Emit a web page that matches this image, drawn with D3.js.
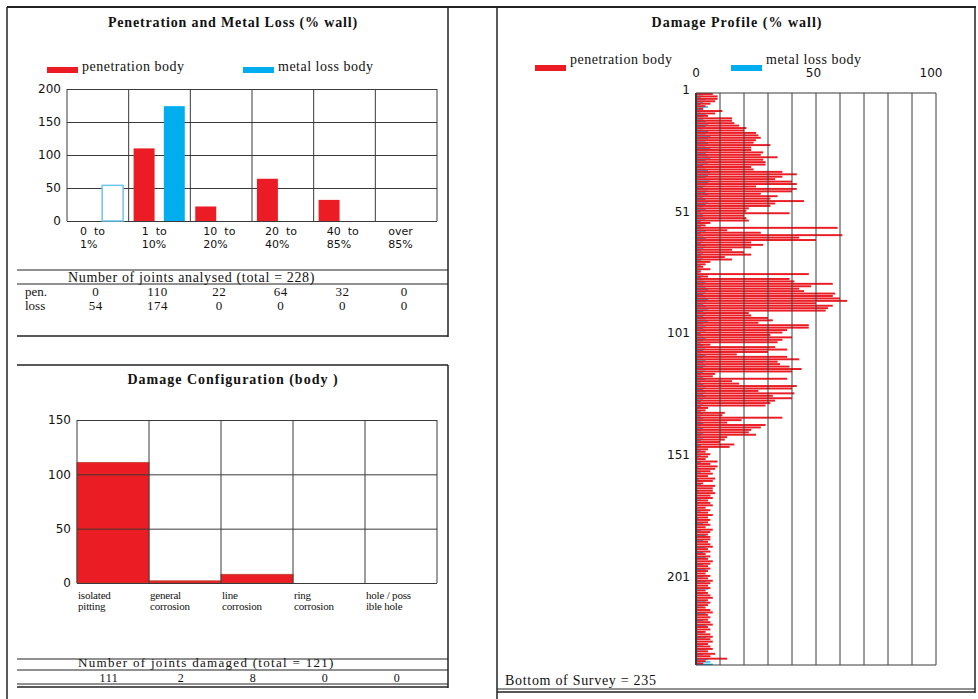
<!DOCTYPE html>
<html>
<head>
<meta charset="utf-8">
<script src="https://cdn.jsdelivr.net/npm/d3@7"></script>
<style>
body { margin: 0; background: #fff; }
svg { display: block; }
text { fill: #111; }
.serif { font-family: "Liberation Serif", "Times New Roman", serif; }
.sans { font-family: "DejaVu Sans", Verdana, sans-serif; }
</style>
</head>
<body>
<svg id="page" width="978" height="699"></svg>
<script>
// penetration / metal loss histogram
var rangeTop = ["0  to", "1  to", "10  to", "20  to", "40  to", "over"];
var rangeBottom = ["1%", "10%", "20%", "40%", "85%", "85%"];
var penCount = [0, 110, 22, 64, 32, 0];
var lossCount = [54, 174, 0, 0, 0, 0];
var histTicks = [0, 50, 100, 150, 200];

// damage configuration
var configTop = ["isolated", "general", "line", "ring", "hole / poss"];
var configBottom = ["pitting", "corrosion", "corrosion", "corrosion", "ible hole"];
var configCount = [111, 2, 8, 0, 0];
var configTicks = [0, 50, 100, 150];

// damage profile, one value per joint (% wall)
var profileTicks = [1, 51, 101, 151, 201];
var profileAxis = [0, 50, 100];
var penProfile = [
    7, 9, 9, 8, 6, 4, 3, 11, 8, 5,
    15, 15, 16, 18, 21, 20, 25, 26, 27, 25,
    24, 31, 23, 23, 28, 27, 34, 28, 29, 29,
    23, 24, 36, 42, 36, 33, 40, 42, 25, 42,
    40, 27, 34, 31, 45, 33, 31, 22, 21, 39,
    20, 21, 22, 6, 4, 59, 13, 27, 61, 43,
    50, 23, 28, 23, 15, 20, 23, 12, 15, 6,
    4, 3, 6, 2, 47, 5, 39, 41, 57, 48,
    43, 45, 58, 57, 60, 63, 50, 57, 55, 54,
    22, 23, 30, 32, 26, 47, 47, 38, 36, 31,
    40, 36, 34, 6, 33, 38, 30, 17, 38, 43,
    34, 35, 39, 44, 40, 8, 7, 38, 15, 18,
    42, 40, 26, 41, 32, 40, 33, 31, 29, 5,
    4, 12, 11, 36, 19, 13, 29, 27, 23, 22,
    25, 13, 12, 10, 16, 14, 5, 4, 6, 5,
    4, 9, 6, 9, 8, 6, 7, 5, 8, 7,
    3, 8, 7, 7, 8, 6, 7, 5, 6, 7,
    4, 6, 5, 7, 5, 6, 5, 6, 4, 7,
    6, 5, 6, 6, 5, 6, 7, 5, 6, 4,
    6, 5, 7, 6, 5, 6, 5, 4, 6, 5,
    7, 6, 5, 6, 4, 5, 6, 7, 5, 6,
    5, 4, 6, 7, 5, 6, 5, 6, 7, 5,
    6, 4, 6, 7, 6, 7, 5, 6, 7, 5,
    8, 6, 13, 4, 3
];
var lossProfile = [
    3, 2, 4, 3, 2, 5, 3, 2, 4, 3,
    3, 4, 5, 4, 3, 5, 4, 6, 5, 4,
    5, 4, 6, 5, 4, 5, 6, 4, 5, 3,
    4, 5, 6, 5, 4, 6, 5, 4, 3, 5,
    4, 5, 3, 4, 5, 4, 3, 4, 2, 3,
    3, 4, 2, 3, 2, 3, 4, 2, 3, 4,
    3, 2, 4, 3, 2, 3, 2, 3, 2, 1,
    2, 1, 2, 1, 3, 2, 3, 4, 3, 4,
    5, 4, 3, 4, 5, 4, 3, 4, 5, 3,
    4, 3, 4, 5, 3, 4, 3, 4, 2, 3,
    4, 3, 2, 3, 4, 3, 2, 4, 3, 4,
    3, 4, 3, 4, 3, 2, 3, 4, 2, 3,
    4, 3, 4, 3, 4, 3, 2, 3, 2, 1,
    2, 3, 2, 3, 2, 3, 2, 3, 2, 3,
    2, 3, 2, 1, 2, 1, 2, 1, 2, 1,
    0.5, 2, 0.5, 1, 0.5, 2, 0.5, 0.5, 1, 0.5,
    2, 0.5, 0.5, 1, 0.5, 0.5, 2, 0.5, 1, 0.5,
    0.5, 2, 0.5, 0.5, 1, 0.5, 3, 0.5, 0.5, 2,
    0.5, 4, 0.5, 3, 0.5, 0.5, 4, 0.5, 3, 0.5,
    4, 0.5, 0.5, 3, 0.5, 4, 0.5, 0.5, 3, 0.5,
    4, 0.5, 0.5, 5, 0.5, 3, 0.5, 0.5, 4, 0.5,
    3, 0.5, 0.5, 4, 0.5, 0.5, 3, 0.5, 4, 0.5,
    0.5, 3, 0.5, 4, 0.5, 0.5, 3, 0.5, 4, 0.5,
    3, 0.5, 5, 6, 7
];

var red = "#ec1c24", blue = "#00aeef", grid = "#3a3a3a";
var svg = d3.select("#page");

function line(x1, y1, x2, y2, w) {
    svg.append("line").attr("x1", x1).attr("y1", y1).attr("x2", x2).attr("y2", y2)
        .attr("stroke", "#222").attr("stroke-width", w || 1);
}

function label(x, y, txt, cls, size, anchor, spacing) {
    return svg.append("text").attr("class", cls).attr("x", x).attr("y", y)
        .attr("font-size", size).attr("text-anchor", anchor || "start")
        .attr("letter-spacing", spacing || 0)
        .style("white-space", "pre").text(txt);
}

function title(x, y, txt, spacing) {
    label(x, y, txt, "serif", 14, "middle", spacing).attr("font-weight", "bold");
}

function legend(x, ySwatch, yText, color, txt) {
    svg.append("rect").attr("x", x).attr("y", ySwatch).attr("width", 31).attr("height", 6).attr("fill", color);
    label(x + 35, yText, txt, "serif", 14, "start", 0.5);
}

function styleAxis(a) {
    a.select(".domain").remove();
    a.selectAll("line").attr("stroke", grid);
    a.selectAll("text").attr("font-family", "DejaVu Sans").attr("font-size", 12).attr("fill", "#222");
}

// frame
line(7, 7, 976, 7, 2);
line(7, 7, 7, 699, 1.5);
line(448, 7, 448, 337, 1.5);
line(17, 336, 448, 336, 1.5);
line(17, 365, 448, 365, 1.5);
line(448, 365, 448, 688, 1.5);
line(17, 684, 448, 684, 1);
line(17, 687, 448, 687, 1.5);
line(497, 7, 497, 699, 1.5);
line(975, 7, 975, 693, 1.5);
line(497, 689, 975, 689, 1);
line(497, 692, 975, 692, 1.5);

function histChart() {
    title(233, 27, "Penetration and Metal Loss (% wall)", 0.85);
    legend(47, 67, 71, red, "penetration body");
    legend(243, 67, 71, blue, "metal loss body");

    var x = d3.scaleBand().domain(d3.range(penCount.length)).range([67, 437]);
    var y = d3.scaleLinear().domain([0, 200]).range([221, 89]);
    var g = svg.append("g");
    var bw = x.bandwidth();

    g.append("g").attr("transform", "translate(67,0)")
        .call(d3.axisLeft(y).tickValues(histTicks).tickSize(-(437 - 67)).tickPadding(6))
        .call(styleAxis);
    g.selectAll(".vg").data(x.domain().concat([x.domain().length]))
        .enter().append("line")
        .attr("x1", function(d) { return d < penCount.length ? x(d) : 437; })
        .attr("x2", function(d) { return d < penCount.length ? x(d) : 437; })
        .attr("y1", y(0)).attr("y2", y(200)).attr("stroke", grid);

    g.selectAll(".pen").data(penCount)
        .enter().append("rect")
        .attr("x", function(d, i) { return x(i) + bw * 0.08; })
        .attr("width", bw * 0.34)
        .attr("y", function(d) { return y(d); })
        .attr("height", function(d) { return y(0) - y(d); })
        .attr("fill", red);

    g.selectAll(".loss").data(lossCount)
        .enter().append("rect")
        .attr("x", function(d, i) { return x(i) + bw * 0.57; })
        .attr("width", bw * 0.34)
        .attr("y", function(d) { return y(d); })
        .attr("height", function(d) { return y(0) - y(d); })
        .attr("fill", function(d, i) { return i === 0 ? "#fff" : blue; })
        .attr("stroke", function(d, i) { return i === 0 ? "#6cc6ee" : "none"; })
        .attr("stroke-width", 1.5);

    x.domain().forEach(function(i) {
        label(x(i) + 13, 235, rangeTop[i], "sans", 11);
        label(x(i) + 13, 248, rangeBottom[i], "sans", 11);
    });

    // table
    line(17, 270, 448, 270);
    line(17, 284, 448, 284);
    label(68, 282, "Number of joints analysed (total = 228)", "serif", 14, "start", 0.65);
    label(25, 296, "pen.", "serif", 13);
    label(25, 310, "loss", "serif", 13);
    x.domain().forEach(function(i) {
        label(x(i) + bw / 2 - 2, 296, penCount[i], "serif", 13, "middle", 0.5);
        label(x(i) + bw / 2 - 2, 310, lossCount[i], "serif", 13, "middle", 0.5);
    });
}

function configChart() {
    title(233, 384, "Damage Configuration (body )", 1);

    var x = d3.scaleBand().domain(d3.range(configCount.length)).range([77, 437]);
    var y = d3.scaleLinear().domain([0, 150]).range([583, 420]);
    var g = svg.append("g");
    var bw = x.bandwidth();

    g.selectAll(".bar").data(configCount)
        .enter().append("rect")
        .attr("x", function(d, i) { return x(i); })
        .attr("width", bw)
        .attr("y", function(d) { return y(d); })
        .attr("height", function(d) { return y(0) - y(d); })
        .attr("fill", red)
        .attr("stroke", "#b9472f").attr("stroke-width", 0.8);

    g.append("g").attr("transform", "translate(77,0)")
        .call(d3.axisLeft(y).tickValues(configTicks).tickSize(-(437 - 77)).tickPadding(6))
        .call(styleAxis);
    g.selectAll(".vg").data(x.domain().concat([x.domain().length]))
        .enter().append("line")
        .attr("x1", function(d) { return d < configCount.length ? x(d) : 437; })
        .attr("x2", function(d) { return d < configCount.length ? x(d) : 437; })
        .attr("y1", y(0)).attr("y2", y(150)).attr("stroke", grid);

    x.domain().forEach(function(i) {
        label(x(i) + 1, 599, configTop[i], "serif", 11, "start", -0.2);
        label(x(i) + 1, 610, configBottom[i], "serif", 11, "start", -0.2);
    });

    line(17, 659, 448, 659);
    line(17, 670, 448, 670);
    label(78, 667, "Number of joints damaged (total = 121)", "serif", 13, "start", 1.3);
    x.domain().forEach(function(i) {
        label(x(i) + bw / 2 - 4, 682, configCount[i], "serif", 12, "middle", 0.6);
    });
}

function profileChart() {
    title(737, 27, "Damage Profile (% wall)", 1);
    legend(535, 65, 64, red, "penetration body");
    legend(731, 65, 64, blue, "metal loss body");

    var joints = d3.range(1, penProfile.length + 1);
    var x = d3.scaleLinear().domain([0, 100]).range([696, 936]);
    var y = d3.scaleBand().domain(joints).range([93, 665]);
    var g = svg.append("g");
    var bh = y.bandwidth();

    // metal loss sits under the penetration bar and shows in the gap below it
    g.selectAll(".loss").data(lossProfile)
        .enter().append("rect")
        .attr("x", x(0))
        .attr("y", function(d, i) { return y(joints[i]) + bh * 0.45; })
        .attr("width", function(d) { return x(d) - x(0); })
        .attr("height", bh * 0.55)
        .attr("fill", blue);

    g.selectAll(".pen").data(penProfile)
        .enter().append("rect")
        .attr("x", x(0))
        .attr("y", function(d, i) { return y(joints[i]); })
        .attr("width", function(d) { return x(d) - x(0); })
        .attr("height", bh * 0.8)
        .attr("fill", red);

    g.selectAll(".vg").data(x.ticks(10))
        .enter().append("line")
        .attr("x1", function(d) { return x(d); }).attr("x2", function(d) { return x(d); })
        .attr("y1", 93).attr("y2", 665)
        .attr("stroke", grid).attr("stroke-width", function(d) { return d === 0 ? 2 : 1; });
    g.append("line").attr("x1", 696).attr("x2", 936).attr("y1", 665).attr("y2", 665).attr("stroke", grid);
    g.append("line").attr("x1", 696).attr("x2", 936).attr("y1", 93).attr("y2", 93).attr("stroke", grid);

    profileAxis.forEach(function(v) {
        label(x(v) - v * 0.05, 77, v, "sans", 12, "middle");
    });
    profileTicks.forEach(function(j) {
        label(690, y(j) + 1, j, "sans", 12, "end");
    });

    label(505, 685, "Bottom of Survey = 235", "serif", 14, "start", 0.7);
}

histChart();
configChart();
profileChart();
</script>
</body>
</html>
